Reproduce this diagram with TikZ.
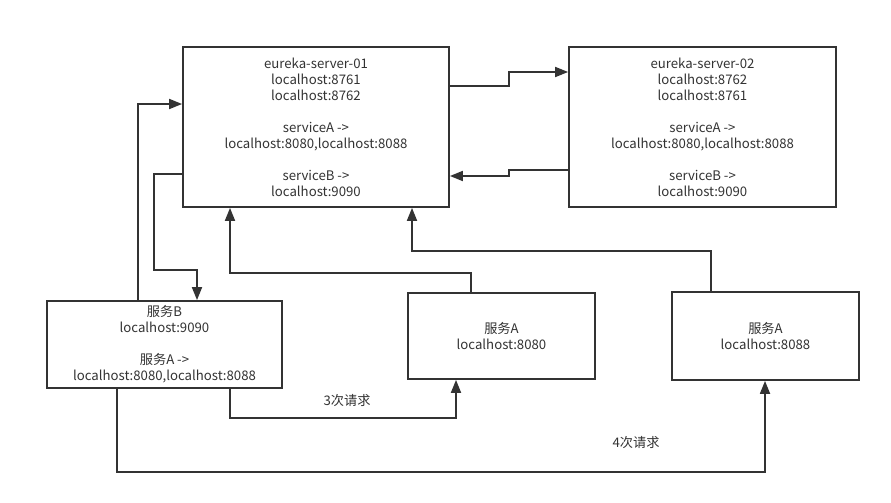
\documentclass[tikz,border=0pt]{standalone}
\usepackage{fontspec}
\setmainfont{Noto Sans CJK SC}
\usetikzlibrary{arrows.meta}
\definecolor{ink}{HTML}{333333}
\begin{document}
\begin{tikzpicture}[x=1pt,y=-1pt,
  box/.style={draw=ink, line width=1.8pt, rectangle, inner sep=0pt, align=center, text=ink, font=\fontsize{13.2}{16}\selectfont},
  conn/.style={draw=ink, line width=1.8pt, -{Triangle[length=13pt,width=10pt]}},
  lbl/.style={text=ink, font=\fontsize{13.2}{16}\selectfont, inner sep=0pt}]
\useasboundingbox[fill=white] (0,0) rectangle (891,503);
\node[box, minimum width=266pt, minimum height=160pt] (e1) at (316,127)
  {eureka-server-01\\localhost:8761\\localhost:8762\\[16pt]serviceA ->\\localhost:8080,localhost:8088\\[16pt]serviceB ->\\localhost:9090};
\node[box, minimum width=267pt, minimum height=160pt] (e2) at (702.5,127)
  {eureka-server-02\\localhost:8762\\localhost:8761\\[16pt]serviceA ->\\localhost:8080,localhost:8088\\[16pt]serviceB ->\\localhost:9090};
\node[box, minimum width=235pt, minimum height=87pt] (sb) at (164.5,344.5)
  {服务B\\localhost:9090\\[16pt]服务A ->\\localhost:8080,localhost:8088};
\node[box, minimum width=187pt, minimum height=86pt] (a1) at (501.5,336)
  {服务A\\localhost:8080};
\node[box, minimum width=187pt, minimum height=88pt] (a2) at (765.5,336)
  {服务A\\localhost:8088};
\draw[conn] (e1.east |- 0,86) -| (509,72) -- (e2.west |- 0,72);
\draw[conn] (e2.west |- 0,170) -| (509,176) -- (e1.east |- 0,176);
\draw[conn] (sb.north -| 138,0) |- (e1.west |- 0,104);
\draw[conn] (e1.west |- 0,174) -| (154,270) -| (sb.north -| 197,0);
\draw[conn] (a1.north -| 471,0) |- (230,273) -- (e1.south -| 230,0);
\draw[conn] (a2.north -| 711,0) |- (412,251) -- (e1.south -| 412,0);
\draw[conn] (sb.south -| 230,0) |- (456,418) -- (a1.south -| 456,0);
\draw[conn] (sb.south -| 117,0) |- (765,472) -- (a2.south -| 765,0);
\node[lbl] (l3) at (347,401) {3次请求};
\node[lbl] (l4) at (636,443) {4次请求};
\end{tikzpicture}
\end{document}
